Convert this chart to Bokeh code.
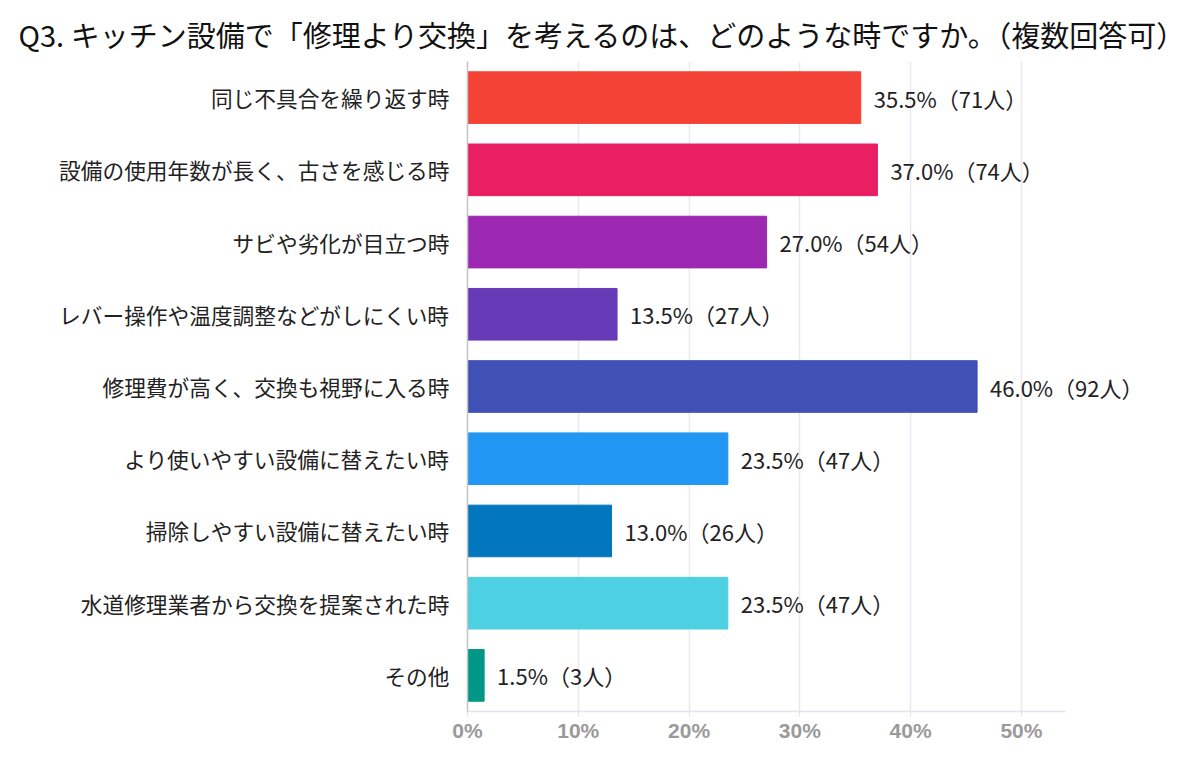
from bokeh.plotting import figure
from bokeh.models import ColumnDataSource, FixedTicker, PrintfTickFormatter, FactorRange, Range1d, Label
from bokeh.embed import file_html
from bokeh.resources import INLINE

# 回答データ
reasons = [
    "同じ不具合を繰り返す時",
    "設備の使用年数が長く、古さを感じる時",
    "サビや劣化が目立つ時",
    "レバー操作や温度調整などがしにくい時",
    "修理費が高く、交換も視野に入る時",
    "より使いやすい設備に替えたい時",
    "掃除しやすい設備に替えたい時",
    "水道修理業者から交換を提案された時",
    "その他",
]
percents = [35.5, 37.0, 27.0, 13.5, 46.0, 23.5, 13.0, 23.5, 1.5]
counts = [71, 74, 54, 27, 92, 47, 26, 47, 3]
colors = ["#F44336", "#E91E63", "#9C27B0", "#673AB7", "#3F51B5",
          "#2196F3", "#0277BD", "#4DD0E1", "#009688"]
xticks = [0, 10, 20, 30, 40, 50]

FONT = "Noto Sans CJK JP"
TICK_FONT = "Liberation Sans"

src = ColumnDataSource(dict(reason=reasons, pct=percents, color=colors))

# 枠は右側へ広めに取り、ラベルが切れないようにする（軸線は bounds で 54% まで）
p = figure(
    width=1184, height=744,
    y_range=FactorRange(factors=list(reversed(reasons))),
    x_range=Range1d(0, 64),
    output_backend="svg", toolbar_location=None,
    min_border_left=467, min_border_right=8,
    min_border_top=61, min_border_bottom=30,
)

p.hbar(y="reason", right="pct", height=0.715, color="color", source=src)

# 値ラベル
n = len(reasons)
for k, (pct, cnt) in enumerate(zip(percents, counts)):
    p.add_layout(Label(x=pct, y=n - 1 - k + 0.5,
                       text="%.1f%%（%d人）" % (pct, cnt),
                       x_offset=13, text_baseline="middle", text_align="left",
                       text_font=FONT, text_font_size="22px", text_color="#222222"))

# タイトル
p.title.text = "Q3. キッチン設備で「修理より交換」を考えるのは、どのような時ですか。（複数回答可）"
p.title.text_font = FONT
p.title.text_font_size = "29px"
p.title.text_font_style = "normal"
p.title.text_color = "#111111"
p.title.align = "left"
p.title.vertical_align = "top"
p.title.offset = -449
p.title.standoff = 10

# x軸
p.xaxis.ticker = FixedTicker(ticks=xticks)
p.xaxis.formatter = PrintfTickFormatter(format="%d%%")
p.xaxis.bounds = (0, 54)
p.xaxis.major_label_text_font = TICK_FONT
p.xaxis.major_label_text_font_size = "21px"
p.xaxis.major_label_text_font_style = "bold"
p.xaxis.major_label_text_color = "#9a9a9a"
p.xaxis.axis_line_color = "#e4e2ea"
p.xaxis.axis_line_width = 1.5
p.xaxis.major_tick_line_color = "#e4e2ea"
p.xaxis.major_tick_out = 5
p.xaxis.major_tick_in = 0
p.xaxis.minor_tick_line_color = None
p.xaxis.major_label_standoff = 2

# y軸
p.yaxis.major_label_text_font = FONT
p.yaxis.major_label_text_font_size = "21.7px"
p.yaxis.major_label_text_color = "#222222"
p.yaxis.axis_line_color = "#c4c4c4"
p.yaxis.axis_line_width = 1.5
p.yaxis.major_tick_line_color = None
p.yaxis.minor_tick_line_color = None
p.yaxis.major_label_standoff = 12

p.xgrid.grid_line_color = "#e9e7ef"
p.xgrid.grid_line_width = 1.5
p.ygrid.grid_line_color = None
p.outline_line_color = None
p.y_range.range_padding = 0

open("out.html", "w").write(file_html(p, INLINE))
